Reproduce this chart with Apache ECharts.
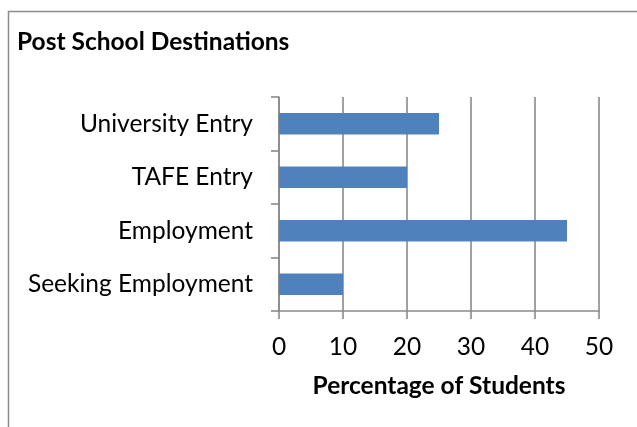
<!DOCTYPE html>
<html>
<head>
<meta charset="utf-8">
<script src="https://cdn.jsdelivr.net/npm/echarts@6/dist/echarts.min.js"></script>
<style>
  html, body { margin: 0; padding: 0; background: #fff; }
  #chart { width: 637px; height: 427px; }
</style>
</head>
<body>
<div id="chart"></div>
<script>
// Post-school destinations of students (percent)
const categories = ['Seeking Employment', 'Employment', 'TAFE Entry', 'University Entry'];
const percentages = [10, 45, 20, 25];
const xTicks = { min: 0, max: 50, interval: 10 };

const FONT = 'Lato, "Open Sans", sans-serif';
const AXIS_GREY = '#8a8a8a';
const LINE_W = 1.6;
const TEXT_SIZE = 24.5;

const chart = echarts.init(document.getElementById('chart'), null, { renderer: 'canvas' });

chart.setOption({
  animation: false,
  backgroundColor: '#ffffff',
  title: {
    text: 'Post School Destinations',
    left: 17,
    top: 30,
    padding: 0,
    textStyle: { fontFamily: FONT, fontWeight: 'bold', fontSize: 24.5, color: '#000' }
  },
  graphic: [
    {
      type: 'polyline',
      shape: { points: [[8.5, 427], [8.5, 11.5], [637, 11.5]] },
      style: { stroke: '#8c8c8c', lineWidth: 1.5, fill: null },
      silent: true
    }
  ],
  grid: { left: 279, right: 38, top: 97, bottom: 116, containLabel: false },
  xAxis: {
    type: 'value',
    min: xTicks.min,
    max: xTicks.max,
    interval: xTicks.interval,
    name: 'Percentage of Students',
    nameLocation: 'middle',
    nameGap: 63,
    nameTextStyle: { fontFamily: FONT, fontWeight: 'bold', fontSize: 24.5, color: '#000' },
    axisLine: { show: true, lineStyle: { color: AXIS_GREY, width: LINE_W } },
    axisTick: { show: true, length: 8, lineStyle: { color: AXIS_GREY, width: LINE_W } },
    axisLabel: { fontFamily: FONT, fontSize: TEXT_SIZE, color: '#000', margin: 24 },
    splitLine: { show: true, lineStyle: { color: AXIS_GREY, width: LINE_W } }
  },
  yAxis: {
    type: 'category',
    data: categories,
    axisLine: { show: true, lineStyle: { color: AXIS_GREY, width: LINE_W } },
    axisTick: { show: true, length: 8, lineStyle: { color: AXIS_GREY, width: LINE_W } },
    axisLabel: { fontFamily: FONT, fontSize: TEXT_SIZE, color: '#000', margin: 26 },
    splitLine: { show: false }
  },
  series: [
    {
      type: 'bar',
      data: percentages,
      barCategoryGap: '60%',
      itemStyle: { color: '#4F81BD' }
    }
  ]
});
</script>
</body>
</html>
